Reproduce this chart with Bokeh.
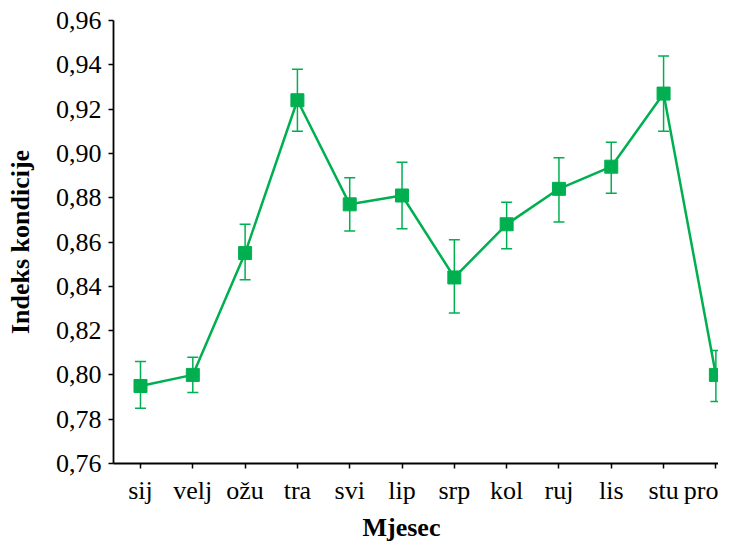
from bokeh.plotting import figure
from bokeh.models import (ColumnDataSource, FixedTicker, CustomJSTickFormatter,
                          Whisker, TeeHead, Title, Range1d)
from bokeh.embed import file_html
from bokeh.resources import INLINE

months = ["sij", "velj", "ožu", "tra", "svi", "lip", "srp", "kol", "ruj", "lis", "stu", "pro"]
means = [0.795, 0.800, 0.855, 0.924, 0.877, 0.881, 0.844, 0.868, 0.884, 0.894, 0.927, 0.800]
upper = [0.806, 0.808, 0.868, 0.938, 0.889, 0.896, 0.861, 0.878, 0.898, 0.905, 0.944, 0.811]
lower = [0.785, 0.792, 0.843, 0.910, 0.865, 0.866, 0.828, 0.857, 0.869, 0.882, 0.910, 0.788]
y_ticks = [0.76, 0.78, 0.80, 0.82, 0.84, 0.86, 0.88, 0.90, 0.92, 0.94, 0.96]

GREEN = "#00B050"
FONT = "Liberation Serif"

xs = list(range(len(months)))
src = ColumnDataSource(dict(x=xs, y=means, upper=upper, lower=lower))

p = figure(width=718, height=544, output_backend="svg", toolbar_location=None,
           x_range=Range1d(-0.516, 11.05), y_range=Range1d(0.76, 0.96),
           min_border_left=113, min_border_top=20, min_border_right=0, min_border_bottom=10)
p.outline_line_color = None
p.xgrid.visible = False
p.ygrid.visible = False
p.background_fill_color = "white"
p.border_fill_color = "white"

w = Whisker(base="x", upper="upper", lower="lower", source=src,
            line_color=GREEN, line_width=1.5,
            upper_head=TeeHead(size=11, line_color=GREEN, line_width=1.5),
            lower_head=TeeHead(size=11, line_color=GREEN, line_width=1.5))
w.level = "underlay"
p.add_layout(w)

p.line("x", "y", source=src, line_color=GREEN, line_width=2.5)
p.scatter("x", "y", source=src, marker="square", size=13, fill_color=GREEN, line_color=GREEN)

for ax in (p.xaxis[0], p.yaxis[0]):
    ax.axis_line_color = "black"
    ax.axis_line_width = 1.8
    ax.major_tick_line_color = "black"
    ax.major_tick_line_width = 1.5
    ax.major_tick_in = 0
    ax.major_tick_out = 5
    ax.minor_tick_line_color = None
    ax.major_label_text_font = FONT
    ax.major_label_text_font_size = "26px"
    ax.major_label_text_color = "black"

p.yaxis.ticker = FixedTicker(ticks=y_ticks)
p.yaxis.formatter = CustomJSTickFormatter(code="return tick.toFixed(2).replace('.', ',');")
p.yaxis.major_label_standoff = 7
p.yaxis.axis_label = "Indeks kondicije"
p.yaxis.axis_label_text_font = FONT
p.yaxis.axis_label_text_font_style = "bold"
p.yaxis.axis_label_text_font_size = "26px"
p.yaxis.axis_label_text_color = "black"
p.yaxis.axis_label_standoff = 18

p.xaxis.ticker = FixedTicker(ticks=xs)
p.xaxis.major_label_overrides = {i: m for i, m in enumerate(months)}
p.xaxis.major_label_standoff = 7

xt = Title(text="Mjesec", align="left", offset=249, text_font=FONT,
           text_font_style="bold", text_font_size="26px", text_color="black",
           standoff=6)
p.add_layout(xt, "below")

open("out.html", "w").write(file_html(p, INLINE))
